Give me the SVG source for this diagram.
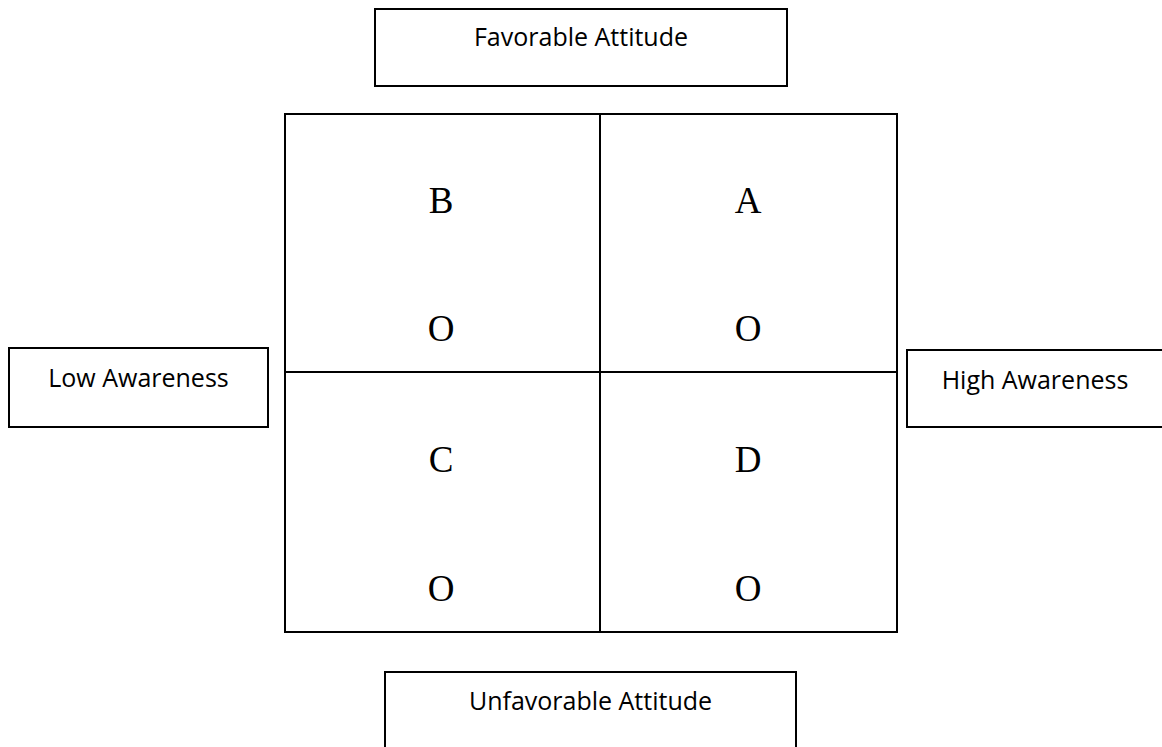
<svg xmlns="http://www.w3.org/2000/svg" width="1162" height="747" viewBox="0 0 1162 747">
<style>
.box{fill:#fff;stroke:#000;stroke-width:2}
.lbl{font-family:"Open Sans","Liberation Sans",sans-serif;font-size:25px;fill:#000;text-anchor:middle}
.q{font-family:"Liberation Serif","Times New Roman",serif;font-size:37px;fill:#000;text-anchor:middle}
.ln{stroke:#000;stroke-width:2;fill:none}
</style>
<rect width="1162" height="747" fill="#fff"/>
<g id="favorable">
<rect class="box" x="375" y="9" width="412" height="77"/>
<text class="lbl" x="581" y="46">Favorable Attitude</text>
</g>
<g id="low-awareness">
<rect class="box" x="9" y="348" width="259" height="79"/>
<text class="lbl" x="138.5" y="387">Low Awareness</text>
</g>
<g id="high-awareness">
<rect class="box" x="907" y="350" width="256" height="77"/>
<text class="lbl" x="1035" y="389">High Awareness</text>
</g>
<g id="unfavorable">
<rect class="box" x="385" y="672" width="411" height="90"/>
<text class="lbl" x="590.5" y="710">Unfavorable Attitude</text>
</g>
<g id="grid">
<rect class="box" x="285" y="114" width="612" height="518"/>
<line class="ln" x1="600" y1="114" x2="600" y2="632"/>
<line class="ln" x1="285" y1="372" x2="897" y2="372"/>
</g>
<g id="quadrant-B">
<text class="q" x="441" y="213">B</text>
<text class="q" x="441" y="341">O</text>
</g>
<g id="quadrant-A">
<text class="q" x="748" y="213">A</text>
<text class="q" x="748" y="341">O</text>
</g>
<g id="quadrant-C">
<text class="q" x="441" y="472">C</text>
<text class="q" x="441" y="601">O</text>
</g>
<g id="quadrant-D">
<text class="q" x="748" y="472">D</text>
<text class="q" x="748" y="601">O</text>
</g>
<g id="connectors"></g>
</svg>
